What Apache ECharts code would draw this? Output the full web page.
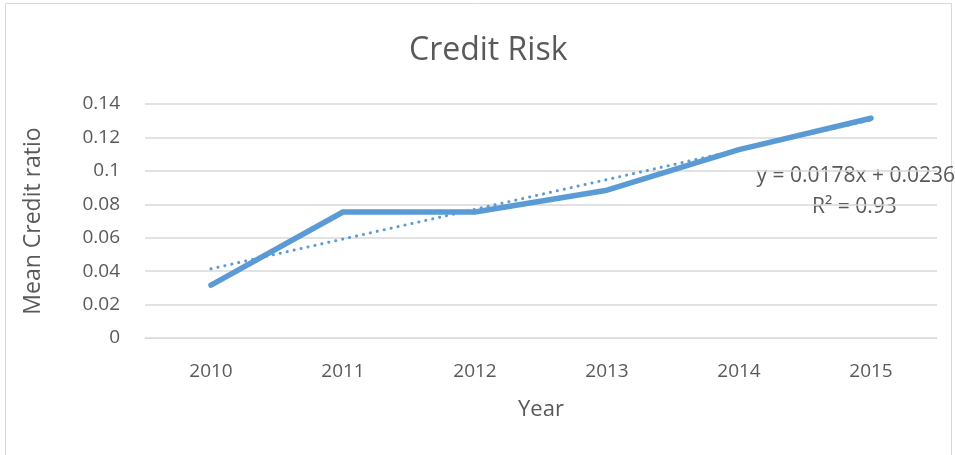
<!DOCTYPE html>
<html>
<head>
<meta charset="utf-8">
<script src="https://cdn.jsdelivr.net/npm/echarts@6/dist/echarts.min.js"></script>
<style>
    html, body { margin: 0; padding: 0; background: #fff; }
    #creditchart { width: 955px; height: 455px; }
</style>
</head>
<body>
<div id="creditchart"></div>
<script>
    var years = ['2010', '2011', '2012', '2013', '2014', '2015'];
    var creditRatio = [0.0316, 0.0754, 0.0754, 0.0884, 0.1127, 0.1315];
    // linear trendline (y = 0.0178x + 0.0236)
    var trendValues = [0.0414, 0.0592, 0.0770, 0.0948, 0.1126, 0.1304];
    var trendEquation = 'y = 0.0178x + 0.0236';
    var trendR2 = 'R² = 0.93';

    var font = '"Open Sans", sans-serif';
    var textColor = '#595959';

    var mychart = echarts.init(document.getElementById('creditchart'));
    mychart.setOption({
        animation: false,
        backgroundColor: '#fff',
        title: {
            text: 'Credit Risk',
            left: 404,
            top: 30,
            textStyle: { fontFamily: font, fontSize: 32, fontWeight: 'normal', color: textColor }
        },
        grid: { left: 145, right: 18, top: 104, bottom: 117 },
        xAxis: {
            type: 'category',
            data: years,
            name: 'Year',
            nameLocation: 'middle',
            nameGap: 61,
            nameTextStyle: { fontFamily: font, fontSize: 22, color: textColor },
            axisLine: { lineStyle: { color: '#D9D9D9', width: 1 } },
            axisTick: { show: false },
            axisLabel: { margin: 24, fontFamily: font, fontSize: 19, color: textColor }
        },
        yAxis: {
            type: 'value',
            min: 0,
            max: 0.14,
            interval: 0.02,
            name: 'Mean Credit ratio',
            nameLocation: 'middle',
            nameGap: 100,
            nameTextStyle: { fontFamily: font, fontSize: 23, color: textColor },
            axisLine: { show: false },
            axisTick: { show: false },
            splitLine: { lineStyle: { color: '#D9D9D9', width: 1.5 } },
            axisLabel: {
                margin: 25,
                fontFamily: font, fontSize: 19, color: textColor,
                formatter: function (v) { return +v.toFixed(2) + ''; }
            }
        },
        series: [
            {
                name: 'Trend',
                type: 'line',
                data: trendValues,
                symbol: 'none',
                lineStyle: { color: '#5B9BD5', width: 3, type: [0.1, 7], cap: 'round' },
                z: 3
            },
            {
                name: 'Mean Credit ratio',
                type: 'line',
                data: creditRatio,
                symbol: 'none',
                lineStyle: { color: '#5B9BD5', width: 5.5, cap: 'round', join: 'round' },
                z: 4
            }
        ],
        graphic: [
            {
                type: 'rect',
                shape: { x: 5.5, y: 3.5, width: 946, height: 500 },
                style: { fill: 'none', stroke: '#D9D9D9', lineWidth: 1 },
                silent: true
            },
            {
                type: 'text',
                right: 0,
                top: 166,
                style: { text: trendEquation, fontFamily: font, fontSize: 21, fill: textColor }
            },
            {
                type: 'text',
                left: 812,
                top: 197,
                style: { text: trendR2, fontFamily: font, fontSize: 21, fill: textColor }
            }
        ]
    });
</script>
</body>
</html>
